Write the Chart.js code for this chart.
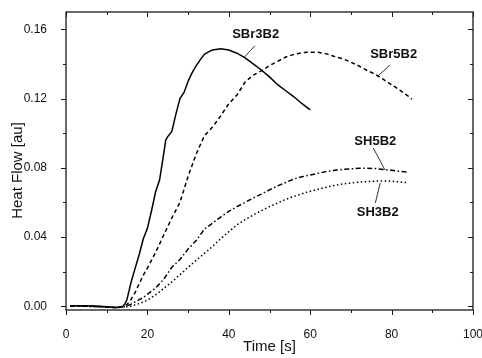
<!DOCTYPE html>
<html>
<head>
<meta charset="utf-8">
<script src="https://cdn.jsdelivr.net/npm/chart.js@4.4.1/dist/chart.umd.min.js"></script>
<style>
  html, body { margin: 0; padding: 0; background: #fff; }
  #wrap { width: 482px; height: 358px; }
</style>
</head>
<body>
<div id="wrap"><canvas id="heatChart"></canvas></div>
<script>
// values
const timeSBr3 = [1, 4, 7, 10, 12, 13, 14, 14.5, 15, 15.5, 16, 17, 18, 19, 20, 21, 22, 23, 24, 24.5, 25, 26, 27, 28, 29, 30, 31, 32, 33, 34, 35, 36, 38, 40, 42, 44, 46, 48, 50, 52, 54, 56, 58, 60];
const flowSBr3 = [0.0003, 0.0002, 0.0001, -0.0003, -0.0008, -0.0006, 0.0000, 0.0015, 0.004, 0.009, 0.014, 0.022, 0.030, 0.039, 0.045, 0.055, 0.066, 0.073, 0.088, 0.096, 0.098, 0.101, 0.111, 0.120, 0.1235, 0.130, 0.135, 0.139, 0.1425, 0.1455, 0.147, 0.148, 0.1488, 0.148, 0.1462, 0.1435, 0.140, 0.1365, 0.1325, 0.128, 0.1245, 0.121, 0.117, 0.1135];

const timeSBr5 = [1, 4, 7, 10, 12, 14, 15, 16, 17, 18, 19, 20, 22, 24, 26, 28, 30, 32, 34, 36, 38, 40, 42, 44, 46, 48, 50, 52, 54, 56, 58, 60, 62, 64, 66, 68, 70, 72, 74, 76, 78, 80, 82, 84, 85];
const flowSBr5 = [0.0002, 0.0001, 0.0000, -0.0004, -0.0007, -0.0003, 0.001, 0.004, 0.008, 0.013, 0.018, 0.022, 0.031, 0.041, 0.051, 0.060, 0.075, 0.088, 0.0985, 0.1035, 0.110, 0.117, 0.122, 0.1295, 0.1335, 0.136, 0.139, 0.1415, 0.144, 0.1455, 0.1465, 0.1468, 0.1467, 0.1458, 0.1443, 0.143, 0.141, 0.1388, 0.1362, 0.134, 0.131, 0.128, 0.1248, 0.1215, 0.1196];

const timeSH5 = [1, 4, 7, 10, 12, 14, 15, 16, 17, 18, 19, 20, 22, 24, 26, 28, 30, 32, 34, 36, 38, 40, 42, 44, 46, 48, 50, 52, 54, 56, 58, 60, 62, 64, 66, 68, 70, 72, 74, 76, 78, 80, 82, 84];
const flowSH5 = [0.0000, 0.0000, -0.0002, -0.0005, -0.0008, -0.0005, 0.0002, 0.0012, 0.0025, 0.0038, 0.005, 0.0068, 0.0105, 0.0155, 0.0225, 0.027, 0.033, 0.038, 0.0445, 0.048, 0.0515, 0.0548, 0.0575, 0.060, 0.0625, 0.0648, 0.0672, 0.0695, 0.0715, 0.0735, 0.0748, 0.0758, 0.0768, 0.0778, 0.0785, 0.079, 0.0794, 0.0797, 0.0797, 0.0795, 0.079, 0.0785, 0.078, 0.0775];

const timeSH3 = [1, 4, 7, 10, 12, 14, 16, 18, 20, 22, 24, 26, 28, 30, 32, 34, 36, 38, 40, 42, 44, 46, 48, 50, 52, 54, 56, 58, 60, 62, 64, 66, 68, 70, 72, 74, 76, 78, 80, 82, 84];
const flowSH3 = [0.0000, 0.0000, -0.0002, -0.0005, -0.0008, -0.0005, 0.0000, 0.0015, 0.0035, 0.0065, 0.0102, 0.014, 0.0182, 0.0225, 0.0265, 0.0305, 0.0345, 0.039, 0.043, 0.047, 0.050, 0.0527, 0.0552, 0.0575, 0.0597, 0.0617, 0.0635, 0.065, 0.0664, 0.0676, 0.0688, 0.0698, 0.0706, 0.0712, 0.0717, 0.072, 0.0723, 0.0724, 0.0722, 0.0718, 0.0713];

const seriesNames = ['SBr3B2', 'SBr5B2', 'SH5B2', 'SH3B2'];
const xTickValues = [0, 20, 40, 60, 80, 100];
const yTickValues = [0.00, 0.04, 0.08, 0.12, 0.16];

// curve labels with leader lines, in data units
const curveNotes = [
    { text: 'SBr3B2', at: [46.6, 0.1548], from: [46.4, 0.1505], to: [43.7, 0.1436] },
    { text: 'SBr5B2', at: [80.5, 0.1433], from: [79.6, 0.1394], to: [76.5, 0.1327] },
    { text: 'SH5B2', at: [76.0, 0.0929], from: [75.5, 0.0914], to: [78.4, 0.0786] },
    { text: 'SH3B2', at: [76.6, 0.0519], from: [76.0, 0.0596], to: [77.2, 0.0712] }
];

const FONT = '"Liberation Sans", Arial, sans-serif';

function pairs(xs, ys) {
    return xs.map((x, i) => ({ x: x, y: ys[i] }));
}

const framePlugin = {
    id: 'frame',
    afterDatasetsDraw(chart) {
        const ctx = chart.ctx;
        const a = chart.chartArea;
        const xs = chart.scales.x;
        const ys = chart.scales.y;
        ctx.save();
        ctx.strokeStyle = '#1a1a1a';
        ctx.lineWidth = 1.3;
        ctx.strokeRect(a.left, a.top, a.right - a.left, a.bottom - a.top);

        ctx.lineWidth = 1;
        ctx.beginPath();
        for (let v = 0; v <= 100; v += 10) {
            const len = v % 20 === 0 ? 5 : 3;
            const px = Math.round(xs.getPixelForValue(v)) + 0.5;
            ctx.moveTo(px, a.bottom); ctx.lineTo(px, a.bottom + len);
            ctx.moveTo(px, a.top); ctx.lineTo(px, a.top + len);
        }
        for (let i = 0; i <= 8; i++) {
            const v = i * 0.02;
            const len = i % 2 === 0 ? 5 : 3;
            const py = Math.round(ys.getPixelForValue(v)) + 0.5;
            ctx.moveTo(a.left, py); ctx.lineTo(a.left - len, py);
            ctx.moveTo(a.right, py); ctx.lineTo(a.right - len, py);
        }
        ctx.stroke();

        // curve labels
        ctx.fillStyle = '#111';
        ctx.font = 'bold 13px ' + FONT;
        ctx.textAlign = 'center';
        ctx.textBaseline = 'alphabetic';
        ctx.lineWidth = 0.9;
        curveNotes.forEach(n => {
            ctx.fillText(n.text, xs.getPixelForValue(n.at[0]), ys.getPixelForValue(n.at[1]));
            ctx.beginPath();
            ctx.moveTo(xs.getPixelForValue(n.from[0]), ys.getPixelForValue(n.from[1]));
            ctx.lineTo(xs.getPixelForValue(n.to[0]), ys.getPixelForValue(n.to[1]));
            ctx.stroke();
        });

        // y axis title
        ctx.font = '15px ' + FONT;
        ctx.textBaseline = 'middle';
        ctx.translate(17.5, 170.5);
        ctx.rotate(-Math.PI / 2);
        ctx.fillText('Heat Flow [au]', 0, 0);
        ctx.restore();
    }
};

document.addEventListener('DOMContentLoaded', function() {
    const ctx = document.getElementById('heatChart').getContext('2d');
    const common = { pointRadius: 0, borderColor: '#000', borderWidth: 1.5, tension: 0, fill: false };
    new Chart(ctx, {
        type: 'line',
        data: {
            datasets: [
                Object.assign({ label: seriesNames[0], data: pairs(timeSBr3, flowSBr3) }, common),
                Object.assign({ label: seriesNames[1], data: pairs(timeSBr5, flowSBr5), borderDash: [4, 3] }, common),
                Object.assign({ label: seriesNames[2], data: pairs(timeSH5, flowSH5), borderDash: [5, 2.5, 1.5, 2.5] }, common),
                Object.assign({ label: seriesNames[3], data: pairs(timeSH3, flowSH3), borderDash: [1.5, 2.5] }, common)
            ]
        },
        options: {
            responsive: true,
            maintainAspectRatio: false,
            animation: false,
            layout: { padding: { top: 12, right: 9, left: 0, bottom: 0 } },
            plugins: { legend: { display: false }, tooltip: { enabled: false } },
            scales: {
                x: {
                    type: 'linear',
                    min: 0,
                    max: 100,
                    grid: { display: false },
                    border: { display: false },
                    afterBuildTicks: scale => { scale.ticks = xTickValues.map(v => ({ value: v })); },
                    afterFit: scale => { scale.height = 48; scale.paddingLeft = 0; scale.paddingRight = 0; },
                    ticks: { padding: 9, color: '#111', font: { family: FONT, size: 12 }, maxRotation: 0 },
                    title: { display: true, text: 'Time [s]', color: '#111', font: { family: FONT, size: 15 }, padding: { top: 0, bottom: 2 } }
                },
                y: {
                    type: 'linear',
                    min: -0.0022,
                    max: 0.17,
                    grid: { display: false },
                    border: { display: false },
                    afterBuildTicks: scale => { scale.ticks = yTickValues.map(v => ({ value: v })); },
                    afterFit: scale => { scale.width = 66; scale.paddingTop = 0; scale.paddingBottom = 0; },
                    ticks: { padding: 11, color: '#111', font: { family: FONT, size: 12 }, callback: v => v.toFixed(2) }
                }
            }
        },
        plugins: [framePlugin]
    });
});
</script>
</body>
</html>
